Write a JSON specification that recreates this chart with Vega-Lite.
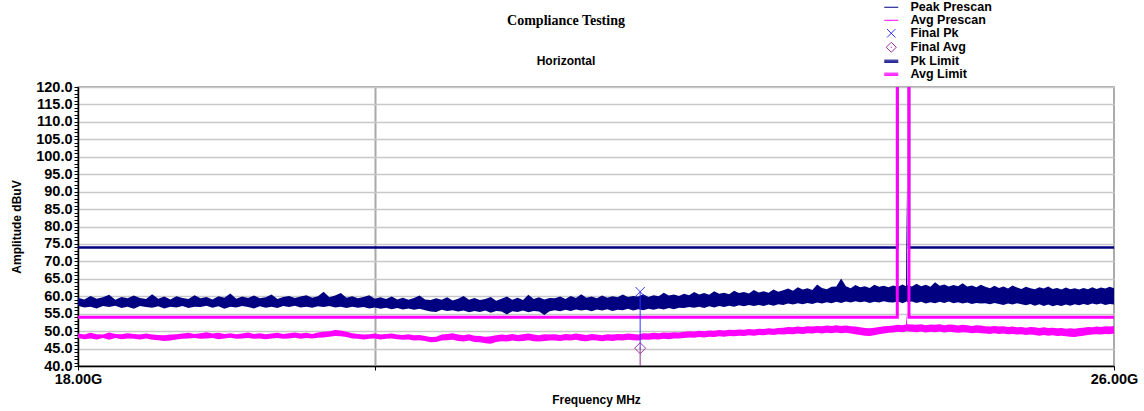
{
  "$schema": "https://vega.github.io/schema/vega-lite/v6.json",
  "width": 1036,
  "height": 279,
  "autosize": {"type": "none"},
  "padding": {"left": 78, "top": 87, "right": 30, "bottom": 45},
  "background": "white",
  "title": {
    "text": "Compliance Testing",
    "subtitle": "Horizontal",
    "anchor": "middle",
    "frame": "group",
    "dx": -30,
    "offset": -66,
    "subtitlePadding": 28,
    "font": "Liberation Serif",
    "fontSize": 14,
    "fontWeight": "bold",
    "color": "#000000",
    "subtitleFont": "Liberation Sans",
    "subtitleFontSize": 12,
    "subtitleFontWeight": "bold",
    "subtitleColor": "#000000"
  },
  "config": {
    "view": {"stroke": "#909090", "strokeWidth": 1.5},
    "axis": {
      "labelFont": "Liberation Sans",
      "labelFontWeight": "bold",
      "labelColor": "#000000",
      "titleFont": "Liberation Sans",
      "titleFontWeight": "bold",
      "titleColor": "#000000",
      "domainColor": "#000000",
      "domainWidth": 1.5,
      "tickColor": "#000000"
    }
  },
  "datasets": {
    "trace": [
      {"f":18000,"ph":59.6,"pl":57.3,"ah":49.3,"al":48.0},
      {"f":18040,"ph":59.1,"pl":56.8,"ah":49.0,"al":47.7},
      {"f":18080,"ph":60.1,"pl":57.0,"ah":49.5,"al":47.9},
      {"f":18120,"ph":59.3,"pl":56.5,"ah":49.1,"al":47.6},
      {"f":18160,"ph":59.7,"pl":57.2,"ah":49.0,"al":48.0},
      {"f":18200,"ph":60.4,"pl":56.9,"ah":49.6,"al":47.5},
      {"f":18240,"ph":59.0,"pl":57.3,"ah":49.2,"al":48.0},
      {"f":18280,"ph":59.8,"pl":56.6,"ah":49.1,"al":47.7},
      {"f":18320,"ph":59.4,"pl":57.0,"ah":49.4,"al":47.9},
      {"f":18360,"ph":60.2,"pl":56.4,"ah":49.2,"al":47.8},
      {"f":18400,"ph":59.5,"pl":57.2,"ah":49.0,"al":47.6},
      {"f":18440,"ph":59.2,"pl":56.9,"ah":49.3,"al":47.9},
      {"f":18480,"ph":60.6,"pl":56.7,"ah":49.0,"al":47.5},
      {"f":18520,"ph":59.3,"pl":57.1,"ah":48.9,"al":47.4},
      {"f":18560,"ph":59.9,"pl":56.5,"ah":48.8,"al":47.2},
      {"f":18600,"ph":59.1,"pl":57.0,"ah":49.0,"al":47.3},
      {"f":18640,"ph":60.0,"pl":56.8,"ah":49.1,"al":47.6},
      {"f":18680,"ph":59.5,"pl":57.2,"ah":49.3,"al":47.8},
      {"f":18720,"ph":59.2,"pl":56.6,"ah":49.5,"al":47.9},
      {"f":18760,"ph":60.3,"pl":57.0,"ah":49.2,"al":48.0},
      {"f":18800,"ph":59.4,"pl":56.9,"ah":49.4,"al":47.8},
      {"f":18840,"ph":59.8,"pl":57.3,"ah":49.7,"al":47.9},
      {"f":18880,"ph":59.1,"pl":56.7,"ah":49.3,"al":48.0},
      {"f":18920,"ph":60.0,"pl":57.1,"ah":49.5,"al":47.7},
      {"f":18960,"ph":59.6,"pl":56.4,"ah":49.2,"al":47.9},
      {"f":19000,"ph":60.8,"pl":57.0,"ah":49.4,"al":48.1},
      {"f":19040,"ph":59.3,"pl":56.8,"ah":49.1,"al":47.8},
      {"f":19080,"ph":59.9,"pl":57.2,"ah":49.3,"al":47.9},
      {"f":19120,"ph":59.5,"pl":56.9,"ah":49.6,"al":48.0},
      {"f":19160,"ph":60.2,"pl":56.5,"ah":49.2,"al":47.8},
      {"f":19200,"ph":59.4,"pl":57.1,"ah":49.4,"al":47.9},
      {"f":19240,"ph":59.7,"pl":56.7,"ah":49.1,"al":47.7},
      {"f":19280,"ph":60.5,"pl":57.0,"ah":49.3,"al":47.9},
      {"f":19320,"ph":59.2,"pl":56.6,"ah":49.5,"al":48.0},
      {"f":19360,"ph":59.8,"pl":57.2,"ah":49.2,"al":47.8},
      {"f":19400,"ph":60.1,"pl":56.9,"ah":49.4,"al":47.9},
      {"f":19440,"ph":59.5,"pl":57.3,"ah":49.6,"al":48.1},
      {"f":19480,"ph":59.9,"pl":56.8,"ah":49.3,"al":47.8},
      {"f":19520,"ph":60.3,"pl":57.0,"ah":49.5,"al":48.0},
      {"f":19560,"ph":59.6,"pl":56.7,"ah":49.2,"al":47.9},
      {"f":19600,"ph":60.0,"pl":57.1,"ah":49.6,"al":48.1},
      {"f":19640,"ph":61.3,"pl":56.9,"ah":49.8,"al":48.2},
      {"f":19680,"ph":59.7,"pl":57.2,"ah":50.0,"al":48.4},
      {"f":19720,"ph":60.2,"pl":56.8,"ah":50.3,"al":48.6},
      {"f":19760,"ph":60.9,"pl":57.0,"ah":50.2,"al":48.5},
      {"f":19800,"ph":59.6,"pl":56.6,"ah":49.8,"al":48.3},
      {"f":19840,"ph":60.0,"pl":57.0,"ah":49.4,"al":47.9},
      {"f":19880,"ph":59.4,"pl":56.7,"ah":49.2,"al":47.8},
      {"f":19920,"ph":59.8,"pl":56.9,"ah":49.0,"al":47.6},
      {"f":19960,"ph":60.3,"pl":56.5,"ah":49.1,"al":47.8},
      {"f":20000,"ph":59.3,"pl":56.8,"ah":49.3,"al":47.9},
      {"f":20040,"ph":59.7,"pl":56.4,"ah":49.0,"al":47.6},
      {"f":20080,"ph":59.2,"pl":56.7,"ah":49.2,"al":47.8},
      {"f":20120,"ph":59.9,"pl":56.3,"ah":49.3,"al":47.9},
      {"f":20160,"ph":59.1,"pl":56.6,"ah":49.0,"al":47.7},
      {"f":20200,"ph":59.6,"pl":56.2,"ah":48.9,"al":47.5},
      {"f":20240,"ph":59.0,"pl":56.5,"ah":49.1,"al":47.6},
      {"f":20280,"ph":59.5,"pl":56.1,"ah":48.8,"al":47.3},
      {"f":20320,"ph":60.2,"pl":56.4,"ah":48.9,"al":47.4},
      {"f":20360,"ph":59.1,"pl":56.0,"ah":48.6,"al":47.2},
      {"f":20400,"ph":58.9,"pl":55.6,"ah":48.3,"al":46.8},
      {"f":20440,"ph":59.4,"pl":55.5,"ah":48.4,"al":46.9},
      {"f":20480,"ph":59.0,"pl":56.1,"ah":49.0,"al":47.3},
      {"f":20520,"ph":59.7,"pl":55.8,"ah":49.2,"al":47.4},
      {"f":20560,"ph":58.8,"pl":56.0,"ah":49.4,"al":47.5},
      {"f":20600,"ph":59.3,"pl":55.6,"ah":49.0,"al":47.2},
      {"f":20640,"ph":60.1,"pl":55.9,"ah":48.8,"al":47.0},
      {"f":20680,"ph":59.0,"pl":55.4,"ah":49.1,"al":47.3},
      {"f":20720,"ph":59.5,"pl":55.8,"ah":48.7,"al":46.9},
      {"f":20760,"ph":58.9,"pl":55.5,"ah":48.6,"al":46.8},
      {"f":20800,"ph":59.2,"pl":55.9,"ah":48.4,"al":46.5},
      {"f":20840,"ph":59.8,"pl":55.3,"ah":48.5,"al":46.4},
      {"f":20880,"ph":58.7,"pl":55.8,"ah":48.8,"al":46.9},
      {"f":20920,"ph":59.3,"pl":55.6,"ah":49.0,"al":47.1},
      {"f":20960,"ph":59.9,"pl":54.8,"ah":48.9,"al":47.0},
      {"f":21000,"ph":59.0,"pl":55.7,"ah":49.2,"al":47.3},
      {"f":21040,"ph":59.6,"pl":55.5,"ah":48.9,"al":47.1},
      {"f":21080,"ph":58.9,"pl":55.9,"ah":49.1,"al":47.2},
      {"f":21120,"ph":60.4,"pl":55.4,"ah":49.3,"al":47.4},
      {"f":21160,"ph":59.2,"pl":55.8,"ah":49.0,"al":47.1},
      {"f":21200,"ph":59.7,"pl":55.6,"ah":48.8,"al":47.0},
      {"f":21240,"ph":59.1,"pl":54.6,"ah":49.1,"al":47.2},
      {"f":21280,"ph":59.5,"pl":55.7,"ah":49.0,"al":47.3},
      {"f":21320,"ph":59.4,"pl":56.0,"ah":49.1,"al":47.3},
      {"f":21360,"ph":59.9,"pl":55.7,"ah":48.9,"al":47.2},
      {"f":21400,"ph":59.2,"pl":56.1,"ah":49.2,"al":47.4},
      {"f":21440,"ph":60.1,"pl":55.8,"ah":49.0,"al":47.3},
      {"f":21480,"ph":59.5,"pl":56.2,"ah":49.3,"al":47.5},
      {"f":21520,"ph":60.6,"pl":55.9,"ah":49.1,"al":47.2},
      {"f":21560,"ph":59.6,"pl":56.1,"ah":48.9,"al":47.1},
      {"f":21600,"ph":59.9,"pl":55.7,"ah":49.2,"al":47.4},
      {"f":21640,"ph":59.4,"pl":56.2,"ah":49.0,"al":47.3},
      {"f":21680,"ph":60.2,"pl":55.9,"ah":48.8,"al":47.1},
      {"f":21720,"ph":59.6,"pl":56.3,"ah":49.1,"al":47.3},
      {"f":21760,"ph":60.0,"pl":55.8,"ah":49.0,"al":47.2},
      {"f":21800,"ph":59.7,"pl":56.1,"ah":49.2,"al":47.4},
      {"f":21840,"ph":60.5,"pl":56.0,"ah":49.1,"al":47.3},
      {"f":21880,"ph":59.8,"pl":56.4,"ah":49.3,"al":47.5},
      {"f":21920,"ph":60.1,"pl":55.9,"ah":49.2,"al":47.4},
      {"f":21960,"ph":59.9,"pl":56.3,"ah":49.0,"al":47.3},
      {"f":22000,"ph":60.6,"pl":56.0,"ah":49.4,"al":47.6},
      {"f":22040,"ph":59.8,"pl":56.4,"ah":49.3,"al":47.5},
      {"f":22080,"ph":60.3,"pl":56.1,"ah":49.5,"al":47.7},
      {"f":22120,"ph":60.0,"pl":56.5,"ah":49.4,"al":47.6},
      {"f":22160,"ph":61.0,"pl":56.2,"ah":49.6,"al":47.8},
      {"f":22200,"ph":60.2,"pl":56.6,"ah":49.5,"al":47.7},
      {"f":22240,"ph":60.5,"pl":56.3,"ah":49.7,"al":47.9},
      {"f":22280,"ph":60.1,"pl":56.7,"ah":49.6,"al":47.9},
      {"f":22320,"ph":60.7,"pl":56.6,"ah":49.8,"al":48.0},
      {"f":22360,"ph":60.3,"pl":56.9,"ah":50.0,"al":48.2},
      {"f":22400,"ph":61.2,"pl":56.7,"ah":49.9,"al":48.1},
      {"f":22440,"ph":60.5,"pl":57.0,"ah":50.1,"al":48.3},
      {"f":22480,"ph":60.9,"pl":56.6,"ah":50.0,"al":48.2},
      {"f":22520,"ph":60.4,"pl":57.1,"ah":50.2,"al":48.4},
      {"f":22560,"ph":61.4,"pl":56.8,"ah":50.1,"al":48.3},
      {"f":22600,"ph":60.7,"pl":57.2,"ah":50.3,"al":48.5},
      {"f":22640,"ph":61.0,"pl":56.9,"ah":50.2,"al":48.4},
      {"f":22680,"ph":60.6,"pl":57.3,"ah":50.4,"al":48.6},
      {"f":22720,"ph":61.6,"pl":57.0,"ah":50.3,"al":48.5},
      {"f":22760,"ph":60.9,"pl":57.4,"ah":50.5,"al":48.7},
      {"f":22800,"ph":61.2,"pl":57.1,"ah":50.4,"al":48.6},
      {"f":22840,"ph":60.8,"pl":57.5,"ah":50.6,"al":48.8},
      {"f":22880,"ph":61.8,"pl":57.2,"ah":50.5,"al":48.7},
      {"f":22920,"ph":61.1,"pl":57.5,"ah":50.7,"al":48.9},
      {"f":22960,"ph":61.4,"pl":57.2,"ah":50.6,"al":48.8},
      {"f":23000,"ph":61.0,"pl":57.6,"ah":50.8,"al":49.0},
      {"f":23040,"ph":61.9,"pl":57.3,"ah":50.7,"al":48.9},
      {"f":23080,"ph":61.3,"pl":57.7,"ah":50.9,"al":49.1},
      {"f":23120,"ph":61.7,"pl":57.5,"ah":51.0,"al":49.0},
      {"f":23160,"ph":62.2,"pl":57.9,"ah":51.2,"al":49.2},
      {"f":23200,"ph":61.6,"pl":57.6,"ah":51.1,"al":49.1},
      {"f":23240,"ph":62.6,"pl":58.0,"ah":51.3,"al":49.3},
      {"f":23280,"ph":61.9,"pl":57.7,"ah":51.2,"al":49.2},
      {"f":23320,"ph":62.3,"pl":58.1,"ah":51.4,"al":49.4},
      {"f":23360,"ph":61.8,"pl":57.8,"ah":51.3,"al":49.3},
      {"f":23400,"ph":63.4,"pl":58.2,"ah":51.5,"al":49.5},
      {"f":23440,"ph":62.4,"pl":57.9,"ah":51.4,"al":49.3},
      {"f":23480,"ph":62.0,"pl":58.3,"ah":51.6,"al":49.5},
      {"f":23520,"ph":62.7,"pl":58.0,"ah":51.5,"al":49.4},
      {"f":23560,"ph":62.8,"pl":58.4,"ah":51.7,"al":49.6},
      {"f":23600,"ph":65.1,"pl":58.1,"ah":51.5,"al":49.4},
      {"f":23640,"ph":62.9,"pl":58.5,"ah":51.6,"al":49.5},
      {"f":23680,"ph":62.3,"pl":58.2,"ah":51.4,"al":49.3},
      {"f":23720,"ph":63.2,"pl":58.6,"ah":51.3,"al":49.1},
      {"f":23760,"ph":62.6,"pl":58.3,"ah":51.1,"al":48.9},
      {"f":23800,"ph":62.9,"pl":58.5,"ah":50.9,"al":48.7},
      {"f":23840,"ph":62.4,"pl":58.1,"ah":50.8,"al":48.6},
      {"f":23880,"ph":63.3,"pl":58.4,"ah":51.0,"al":48.8},
      {"f":23920,"ph":62.7,"pl":58.2,"ah":51.2,"al":49.1},
      {"f":23960,"ph":63.0,"pl":58.6,"ah":51.4,"al":49.3},
      {"f":24000,"ph":62.6,"pl":58.3,"ah":51.5,"al":49.5},
      {"f":24040,"ph":63.1,"pl":58.2,"ah":51.6,"al":49.6},
      {"f":24080,"ph":62.7,"pl":58.5,"ah":51.8,"al":49.8},
      {"f":24120,"ph":63.4,"pl":58.0,"ah":51.7,"al":49.7},
      {"f":24150,"ph":62.9,"pl":58.4,"ah":51.9,"al":49.9},
      {"f":24155,"ph":91.4,"pl":58.6,"ah":55.0,"al":50.2},
      {"f":24160,"ph":63.2,"pl":58.3,"ah":52.0,"al":50.0},
      {"f":24200,"ph":62.8,"pl":58.5,"ah":51.9,"al":49.8},
      {"f":24240,"ph":63.6,"pl":58.1,"ah":51.8,"al":49.7},
      {"f":24280,"ph":62.9,"pl":58.4,"ah":52.0,"al":49.9},
      {"f":24320,"ph":63.3,"pl":57.9,"ah":51.7,"al":49.6},
      {"f":24360,"ph":62.7,"pl":58.3,"ah":51.9,"al":49.8},
      {"f":24400,"ph":64.0,"pl":58.0,"ah":51.8,"al":49.7},
      {"f":24440,"ph":63.0,"pl":58.4,"ah":52.0,"al":49.9},
      {"f":24480,"ph":63.4,"pl":58.1,"ah":51.7,"al":49.6},
      {"f":24520,"ph":62.8,"pl":58.5,"ah":51.9,"al":49.8},
      {"f":24560,"ph":63.2,"pl":58.0,"ah":51.8,"al":49.7},
      {"f":24600,"ph":62.9,"pl":58.3,"ah":51.6,"al":49.5},
      {"f":24640,"ph":63.7,"pl":57.9,"ah":51.8,"al":49.7},
      {"f":24680,"ph":62.8,"pl":58.2,"ah":51.7,"al":49.6},
      {"f":24720,"ph":63.1,"pl":57.8,"ah":51.5,"al":49.4},
      {"f":24760,"ph":62.6,"pl":58.1,"ah":51.7,"al":49.5},
      {"f":24800,"ph":63.3,"pl":57.9,"ah":51.6,"al":49.4},
      {"f":24840,"ph":62.7,"pl":58.0,"ah":51.4,"al":49.3},
      {"f":24880,"ph":62.3,"pl":57.7,"ah":51.3,"al":49.2},
      {"f":24920,"ph":63.0,"pl":58.1,"ah":51.5,"al":49.4},
      {"f":24960,"ph":62.4,"pl":57.8,"ah":51.3,"al":49.2},
      {"f":25000,"ph":62.8,"pl":57.5,"ah":51.4,"al":49.3},
      {"f":25040,"ph":62.2,"pl":57.9,"ah":51.2,"al":49.1},
      {"f":25080,"ph":63.1,"pl":57.6,"ah":51.3,"al":49.2},
      {"f":25120,"ph":62.5,"pl":58.0,"ah":51.1,"al":49.0},
      {"f":25160,"ph":62.1,"pl":57.7,"ah":51.2,"al":49.1},
      {"f":25200,"ph":62.7,"pl":57.4,"ah":51.0,"al":48.9},
      {"f":25240,"ph":62.3,"pl":57.8,"ah":51.2,"al":49.0},
      {"f":25280,"ph":62.0,"pl":57.3,"ah":51.1,"al":48.9},
      {"f":25320,"ph":62.6,"pl":57.7,"ah":50.9,"al":48.7},
      {"f":25360,"ph":62.2,"pl":57.2,"ah":51.1,"al":48.9},
      {"f":25400,"ph":62.8,"pl":57.6,"ah":50.9,"al":48.7},
      {"f":25440,"ph":62.1,"pl":57.1,"ah":51.0,"al":48.8},
      {"f":25480,"ph":62.4,"pl":57.5,"ah":50.8,"al":48.6},
      {"f":25520,"ph":61.9,"pl":57.2,"ah":50.9,"al":48.7},
      {"f":25560,"ph":62.5,"pl":57.6,"ah":50.7,"al":48.5},
      {"f":25600,"ph":62.0,"pl":57.3,"ah":50.8,"al":48.4},
      {"f":25640,"ph":62.3,"pl":57.7,"ah":50.7,"al":48.3},
      {"f":25680,"ph":61.9,"pl":57.4,"ah":50.9,"al":48.5},
      {"f":25720,"ph":62.4,"pl":57.8,"ah":51.0,"al":48.7},
      {"f":25760,"ph":62.0,"pl":57.5,"ah":51.2,"al":48.9},
      {"f":25800,"ph":62.6,"pl":57.9,"ah":51.1,"al":49.0},
      {"f":25840,"ph":62.1,"pl":57.6,"ah":51.3,"al":49.1},
      {"f":25880,"ph":62.5,"pl":57.9,"ah":51.2,"al":49.0},
      {"f":25920,"ph":62.2,"pl":57.5,"ah":51.4,"al":49.2},
      {"f":25960,"ph":62.7,"pl":57.8,"ah":51.3,"al":49.1},
      {"f":26000,"ph":62.3,"pl":57.6,"ah":51.5,"al":49.3}
    ],
    "limits": [
      {"f":18000,"pk":74,"av":54,"o":1},
      {"f":24075,"pk":74,"av":54,"o":2},
      {"f":24075,"pk":200,"av":200,"o":3},
      {"f":24175,"pk":200,"av":200,"o":4},
      {"f":24175,"pk":74,"av":54,"o":5},
      {"f":26000,"pk":74,"av":54,"o":6}
    ],
    "finals": [
      {"s":"Final Pk","f":21975,"v":61.3},
      {"s":"Final Avg","f":21975,"v":45.1}
    ]
  },
  "encoding": {
    "x": {
      "field": "f",
      "type": "quantitative",
      "scale": {"type": "log", "domain": [18000, 26000], "nice": false},
      "axis": {
        "title": "Frequency MHz",
        "titleFontSize": 12,
        "titlePadding": 9,
        "values": [18000, 20000, 26000],
        "labelExpr": "datum.value == 20000 ? '' : format(datum.value / 1000, '.2f') + 'G'",
        "labelFontSize": 14.5,
        "labelPadding": 2,
        "labelFlush": false,
        "labelOverlap": false,
        "labelBound": false,
        "tickSize": 4,
        "grid": true,
        "gridWidth": 2,
        "gridColor": {"condition": {"test": "datum.value == 20000", "value": "#a8a8a8"}, "value": "transparent"}
      }
    },
    "y": {
      "field": "v",
      "type": "quantitative",
      "scale": {"domain": [40, 120], "nice": false, "zero": false},
      "axis": {
        "title": "Amplitude dBuV",
        "titleFontSize": 12,
        "titlePadding": 12,
        "values": [40,41,42,43,44,45,46,47,48,49,50,51,52,53,54,55,56,57,58,59,60,61,62,63,64,65,66,67,68,69,70,71,72,73,74,75,76,77,78,79,80,81,82,83,84,85,86,87,88,89,90,91,92,93,94,95,96,97,98,99,100,101,102,103,104,105,106,107,108,109,110,111,112,113,114,115,116,117,118,119,120],
        "labelExpr": "datum.value % 5 == 0 ? format(datum.value, '.1f') : ''",
        "labelFontSize": 14.5,
        "labelPadding": 2,
        "labelOverlap": false,
        "labelBound": false,
        "labelFlush": false,
        "tickSize": 4,
        "grid": true,
        "gridWidth": 1.5,
        "gridColor": {"condition": {"test": "datum.value % 5 == 0", "value": "#c8c8c8"}, "value": "transparent"}
      }
    }
  },
  "layer": [
    {
      "data": {"name": "trace"},
      "transform": [{"fold": ["ah"], "as": ["k", "v"]}],
      "mark": {"type": "area", "color": "#FF00FF", "clip": true},
      "encoding": {
        "y2": {"field": "al"}
      }
    },
    {
      "data": {"name": "trace"},
      "transform": [{"fold": ["ph"], "as": ["k", "v"]}],
      "mark": {"type": "area", "color": "#000080", "clip": true},
      "encoding": {
        "y2": {"field": "pl"}
      }
    },
    {
      "data": {"name": "limits"},
      "transform": [{"fold": ["pk"], "as": ["k", "v"]}],
      "mark": {"type": "line", "color": "#000080", "strokeWidth": 2.5, "clip": true},
      "encoding": {
        "order": {"field": "o", "type": "quantitative"}
      }
    },
    {
      "data": {"name": "limits"},
      "transform": [{"fold": ["av"], "as": ["k", "v"]}],
      "mark": {"type": "line", "color": "#FF00FF", "strokeWidth": 3, "clip": true},
      "encoding": {
        "order": {"field": "o", "type": "quantitative"}
      }
    },
    {
      "data": {"name": "finals"},
      "transform": [{"aggregate": [{"op": "max", "field": "v", "as": "v"}, {"op": "min", "field": "v", "as": "v2"}], "groupby": ["f"]}],
      "mark": {"type": "rule", "color": "#3333FF", "strokeWidth": 1},
      "encoding": {
        "y2": {"field": "v2"}
      }
    },
    {
      "data": {"name": "finals"},
      "transform": [{"filter": "datum.s == 'Final Avg'"}],
      "mark": {"type": "rule", "color": "#8B2E8B", "strokeWidth": 1},
      "encoding": {
        "y2": {"datum": 40}
      }
    },
    {
      "data": {"name": "finals"},
      "mark": {"type": "point", "filled": false, "strokeWidth": 1, "size": 121, "opacity": 1},
      "encoding": {
        "color": {
          "field": "s",
          "type": "nominal",
          "scale": {
            "domain": ["Peak Prescan", "Avg Prescan", "Final Pk", "Final Avg", "Pk Limit", "Avg Limit"],
            "range": ["#000080", "#FF00FF", "#3333FF", "#993399", "#000080", "#FF00FF"]
          },
          "legend": {
            "title": null,
            "orient": "none",
            "legendX": 807,
            "legendY": -86,
            "padding": 0,
            "rowPadding": 0,
            "symbolSize": 100,
            "symbolStrokeWidth": 1,
            "symbolOffset": 0,
            "labelOffset": 13,
            "labelFont": "Liberation Sans",
            "labelFontWeight": "bold",
            "labelFontSize": 12.5,
            "labelColor": "#000000",
            "labelLimit": 200
          }
        },
        "shape": {
          "field": "s",
          "type": "nominal",
          "scale": {
            "domain": ["Peak Prescan", "Avg Prescan", "Final Pk", "Final Avg", "Pk Limit", "Avg Limit"],
            "range": [
              "M-1.4,0H1.4",
              "M-1.4,0H1.4",
              "M-0.85,-0.85L0.85,0.85M-0.85,0.85L0.85,-0.85",
              "M0,-1L1,0L0,1L-1,0ZM-0.12,0L0.12,0",
              "M-1.4,-0.22H1.4M-1.4,0H1.4M-1.4,0.22H1.4",
              "M-1.4,-0.22H1.4M-1.4,0H1.4M-1.4,0.22H1.4"
            ]
          },
          "legend": {
            "title": null,
            "orient": "none",
            "legendX": 807,
            "legendY": -86,
            "padding": 0,
            "rowPadding": 0,
            "symbolSize": 100,
            "symbolStrokeWidth": 1,
            "symbolOffset": 0,
            "labelOffset": 13,
            "labelFont": "Liberation Sans",
            "labelFontWeight": "bold",
            "labelFontSize": 12.5,
            "labelColor": "#000000",
            "labelLimit": 200
          }
        }
      }
    }
  ]
}
